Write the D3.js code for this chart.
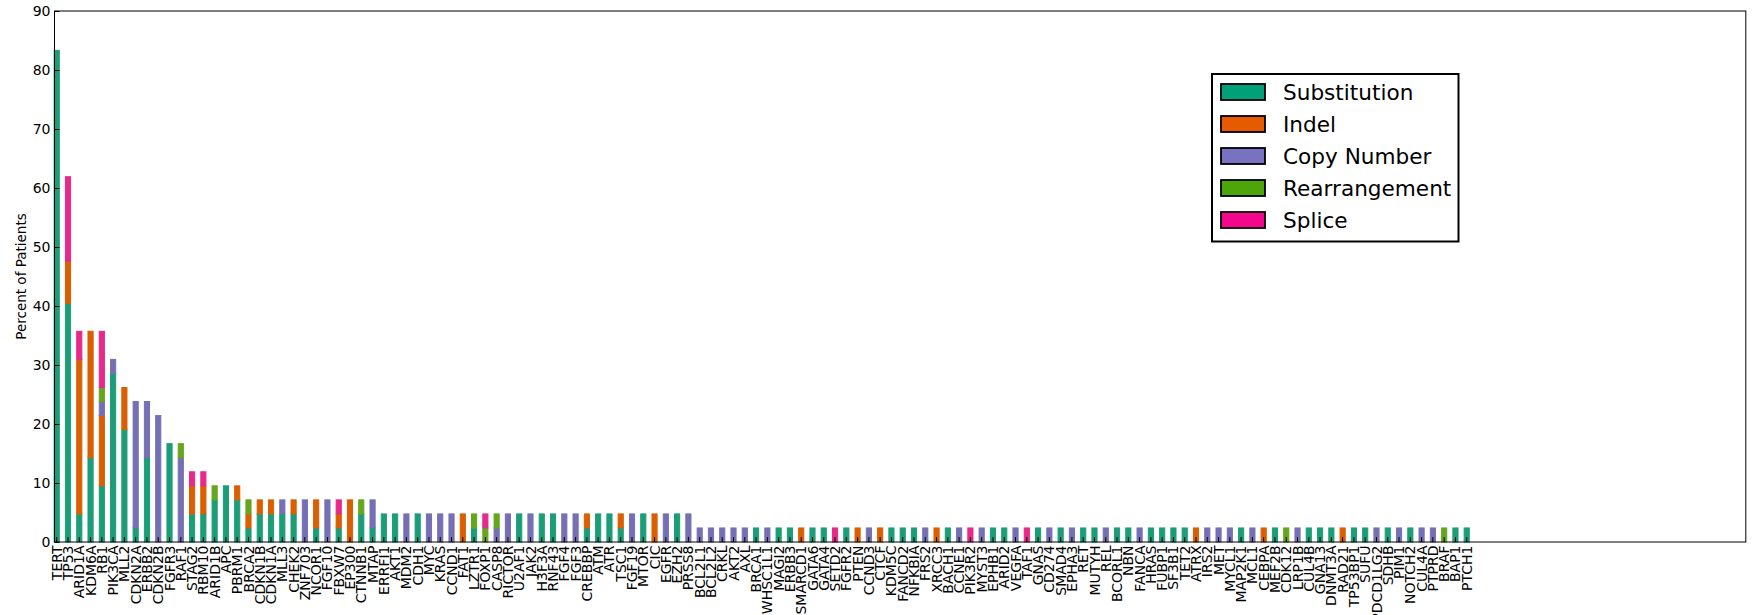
<!DOCTYPE html>
<html>
<head>
<meta charset="utf-8">
<script src="https://cdn.jsdelivr.net/npm/d3@7"></script>
<style>
  body { margin: 0; background: #fff; }
  svg { display: block; font-family: "DejaVu Sans", sans-serif; }
</style>
</head>
<body>
<svg id="chart" width="1760" height="615"></svg>
<script>
// genes, in the order they are plotted
const genes = [
  'TERT','TP53','ARID1A','KDM6A','RB1','PIK3CA','MLL2','CDKN2A','ERBB2','CDKN2B',
  'FGFR3','RAF1','STAG2','RBM10','ARID1B','APC','PBRM1','BRCA2','CDKN1B','CDKN1A',
  'MLL3','CHEK2','ZNF703','NCOR1','FGF10','FBXW7','EP300','CTNNB1','MTAP','ERRFI1',
  'AKT1','MDM2','CDH1','MYC','KRAS','CCND1','FAT1','LZTR1','FOXP1','CASP8',
  'RICTOR','U2AF1','JAK2','H3F3A','RNF43','FGF4','FGF3','CREBBP','ATM','ATR',
  'TSC1','FGF19','MTOR','CIC','EGFR','EZH2','PRSS8','BCL2L1','BCL2L2','CRKL',
  'AKT2','AXL','BRCA1','WHSC1L1','MAGI2','ERBB3','SMARCD1','GATA6','GATA4','SETD2',
  'FGFR2','PTEN','CCND3','CTCF','KDM5C','FANCD2','NFKBIA','FRS2','XRCC3','BACH1',
  'CCNE1','PIK3R2','MYST3','EPHB1','ARID2','VEGFA','TAF1','GNAS','CD274','SMAD4',
  'EPHA3','RET','MUTYH','REL','BCORL1','NBN','FANCA','HRAS','FUBP1','SF3B1',
  'TET2','ATRX','IRS2','MET','MYCL1','MAP2K1','MCL1','CEBPA','MEF2B','CDK12',
  'LRP1B','CUL4B','GNA13','DNMT3A','RAD21','TP53BP1','SUFU','PDCD1LG2','SDHB','PIM1',
  'NOTCH2','CUL4A','PTPRD','BRAF','BAP1','PTCH1'
];

// percent of patients, per alteration type
const substitution = [
  83.33,40.48,4.76,14.29,9.52,28.57,19.05,2.38,14.29,0,
  16.67,0,4.76,4.76,7.14,9.52,7.14,2.38,4.76,4.76,
  4.76,4.76,0,2.38,0,2.38,0,4.76,2.38,4.76,
  4.76,0,4.76,0,0,0,0,2.38,0,0,
  0,4.76,0,4.76,4.76,0,0,2.38,4.76,4.76,
  2.38,0,4.76,0,0,4.76,0,0,0,0,
  0,0,2.38,0,2.38,2.38,0,2.38,2.38,0,
  2.38,0,0,0,2.38,2.38,2.38,0,0,2.38,
  0,0,0,2.38,2.38,0,0,2.38,0,2.38,
  0,2.38,2.38,0,2.38,2.38,0,2.38,2.38,2.38,
  2.38,0,0,0,0,2.38,0,0,2.38,0,
  0,2.38,2.38,2.38,0,2.38,2.38,0,2.38,0,
  2.38,0,0,0,2.38,2.38
];
const indel = [
  0,7.14,26.19,21.43,11.9,0,7.14,0,0,0,
  0,0,4.76,4.76,0,0,2.38,2.38,2.38,2.38,
  0,2.38,0,4.76,0,2.38,7.14,0,0,0,
  0,0,0,0,0,0,4.76,0,0,0,
  0,0,0,0,0,0,0,2.38,0,0,
  2.38,0,0,4.76,0,0,0,0,0,0,
  0,0,0,0,0,0,2.38,0,0,0,
  0,2.38,0,2.38,0,0,0,0,2.38,0,
  0,0,0,0,0,0,0,0,0,0,
  0,0,0,0,0,0,0,0,0,0,
  0,2.38,0,0,0,0,0,2.38,0,0,
  0,0,0,0,2.38,0,0,0,0,0,
  0,0,0,0,0,0
];
const copyNumber = [
  0,0,0,0,2.38,2.38,0,21.43,9.52,21.43,
  0,14.29,0,0,0,0,0,0,0,0,
  2.38,0,7.14,0,7.14,0,0,0,4.76,0,
  0,4.76,0,4.76,4.76,4.76,0,0,0,2.38,
  4.76,0,4.76,0,0,4.76,4.76,0,0,0,
  0,4.76,0,0,4.76,0,4.76,2.38,2.38,2.38,
  2.38,2.38,0,2.38,0,0,0,0,0,0,
  0,0,2.38,0,0,0,0,2.38,0,0,
  2.38,0,2.38,0,0,2.38,0,0,2.38,0,
  2.38,0,0,2.38,0,0,2.38,0,0,0,
  0,0,2.38,2.38,2.38,0,2.38,0,0,0,
  2.38,0,0,0,0,0,0,2.38,0,2.38,
  0,2.38,2.38,0,0,0
];
const rearrangement = [
  0,0,0,0,2.38,0,0,0,0,0,
  0,2.38,0,0,2.38,0,0,2.38,0,0,
  0,0,0,0,0,0,0,2.38,0,0,
  0,0,0,0,0,0,0,2.38,2.38,2.38,
  0,0,0,0,0,0,0,0,0,0,
  0,0,0,0,0,0,0,0,0,0,
  0,0,0,0,0,0,0,0,0,0,
  0,0,0,0,0,0,0,0,0,0,
  0,0,0,0,0,0,0,0,0,0,
  0,0,0,0,0,0,0,0,0,0,
  0,0,0,0,0,0,0,0,0,2.38,
  0,0,0,0,0,0,0,0,0,0,
  0,0,0,2.38,0,0
];
const splice = [
  0,14.29,4.76,0,9.52,0,0,0,0,0,
  0,0,2.38,2.38,0,0,0,0,0,0,
  0,0,0,0,0,2.38,0,0,0,0,
  0,0,0,0,0,0,0,0,2.38,0,
  0,0,0,0,0,0,0,0,0,0,
  0,0,0,0,0,0,0,0,0,0,
  0,0,0,0,0,0,0,0,0,2.38,
  0,0,0,0,0,0,0,0,0,0,
  0,2.38,0,0,0,0,2.38,0,0,0,
  0,0,0,0,0,0,0,0,0,0,
  0,0,0,0,0,0,0,0,0,0,
  0,0,0,0,0,0,0,0,0,0,
  0,0,0,0,0,0
];

const seriesNames = ['Substitution', 'Indel', 'Copy Number', 'Rearrangement', 'Splice'];
const seriesValues = [substitution, indel, copyNumber, rearrangement, splice];
const barColors = ['#1b9e77', '#d95f02', '#7570b3', '#66a61e', '#e7298a'];
const legendColors = ['#00a078', '#e65a00', '#7872c0', '#4ea50a', '#f5078c'];
const yTicks = [0, 10, 20, 30, 40, 50, 60, 70, 80, 90];

const plotLeft = 54.5, plotRight = 1745.8, plotTop = 11, plotBottom = 542;
const step = 11.28;

const svg = d3.select('#chart');

const rows = genes.map((g, i) => {
  const r = { gene: g };
  seriesNames.forEach((k, j) => { r[k] = seriesValues[j][i]; });
  return r;
});
const stacked = d3.stack().keys(seriesNames)(rows);

const x = d3.scaleBand()
  .domain(genes)
  .range([53.9, 53.9 + (genes.length - 0.5) * step])
  .paddingInner(0.5)
  .paddingOuter(0);
const y = d3.scaleLinear().domain([0, 90]).range([plotBottom, plotTop]);

// bars (zero-height segments still leave a thin line, as in the original)
svg.append('g')
  .selectAll('g')
  .data(stacked)
  .enter().append('g')
  .attr('fill', (d, i) => barColors[i])
  .attr('stroke', (d, i) => barColors[i])
  .selectAll('rect')
  .data(d => d)
  .enter().append('rect')
  .attr('x', d => x(d.data.gene) + 0.25)
  .attr('width', x.bandwidth() - 0.5)
  .attr('y', d => y(d[1]))
  .attr('height', d => y(d[0]) - y(d[1]))
  .attr('stroke-width', 1);

// y axis
const yAxis = svg.append('g')
  .attr('transform', 'translate(' + plotLeft + ',0)')
  .call(d3.axisLeft(y).tickValues(yTicks).tickSizeInner(-5).tickSizeOuter(0).tickPadding(4));
yAxis.select('.domain').remove();
yAxis.selectAll('line').attr('stroke', '#000');
yAxis.selectAll('text')
  .attr('font-size', 14)
  .attr('font-family', '"DejaVu Sans", sans-serif')
  .attr('fill', '#000');

// x axis
const xAxis = svg.append('g')
  .attr('transform', 'translate(0,' + plotBottom + ')')
  .call(d3.axisBottom(x).tickSizeInner(-5).tickSizeOuter(0));
xAxis.select('.domain').remove();
xAxis.selectAll('line').attr('stroke', '#000');
xAxis.selectAll('text')
  .attr('transform', 'rotate(-90)')
  .attr('x', -3.5)
  .attr('y', 0)
  .attr('dy', '0.36em')
  .attr('text-anchor', 'end')
  .attr('font-size', 14)
  .attr('font-family', '"DejaVu Sans", sans-serif')
  .attr('fill', '#000');

// frame
svg.append('rect')
  .attr('x', plotLeft)
  .attr('y', plotTop)
  .attr('width', plotRight - plotLeft)
  .attr('height', plotBottom - plotTop)
  .attr('fill', 'none')
  .attr('stroke', '#000')
  .attr('stroke-width', 1);

// y label
svg.append('text')
  .attr('transform', 'translate(26,' + (plotTop + plotBottom) / 2 + ') rotate(-90)')
  .attr('text-anchor', 'middle')
  .attr('font-size', 13.5)
  .text('Percent of Patients');

// legend
const legend = svg.append('g');
legend.append('rect')
  .attr('x', 1212).attr('y', 74)
  .attr('width', 246.5).attr('height', 167.5)
  .attr('fill', '#fff')
  .attr('stroke', '#000')
  .attr('stroke-width', 2);
const item = legend.selectAll('g.item')
  .data(seriesNames)
  .enter().append('g')
  .attr('class', 'item')
  .attr('transform', (d, i) => 'translate(0,' + (92 + i * 32) + ')');
item.append('rect')
  .attr('x', 1221).attr('y', -8)
  .attr('width', 44).attr('height', 16)
  .attr('fill', (d, i) => legendColors[i])
  .attr('stroke', '#000')
  .attr('stroke-width', 1.8);
item.append('text')
  .attr('x', 1283)
  .attr('dy', '0.36em')
  .attr('font-size', 21.6)
  .text(d => d);
</script>
</body>
</html>
